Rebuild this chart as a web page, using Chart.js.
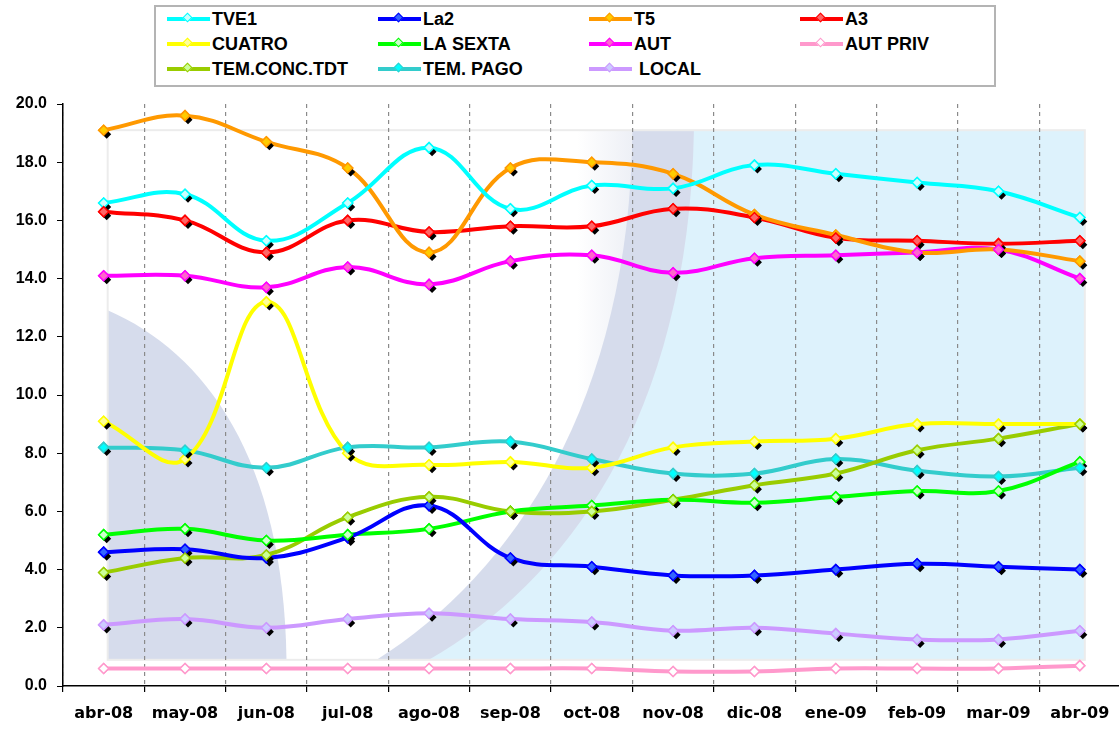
<!DOCTYPE html>
<html>
<head>
<meta charset="utf-8">
<script src="https://cdn.jsdelivr.net/npm/chart.js"></script>
<style>
body { margin: 0; overflow: hidden; background: #fff; }
#wrap { position: relative; width: 1127px; height: 730px; }
#legend { position: absolute; left: 154px; top: 5px; width: 842px; height: 82px; border: 2px solid #b4b4b4; box-sizing: border-box; background: #fff; }
.item { position: absolute; height: 24px; display: flex; align-items: center; font: bold 18px "Liberation Sans", Arial, sans-serif; color: #000; white-space: nowrap; }
.sample { position: relative; width: 43px; height: 4px; margin-right: 2px; }
.dia { position: absolute; left: 17px; top: -3px; width: 7px; height: 7px; transform: rotate(45deg); box-sizing: border-box; border: 1.5px solid; }
</style>
</head>
<body>
<div id="wrap">
  <canvas id="tv" width="1127" height="730"></canvas>
  <div id="legend"></div>
</div>
<script>
const months = ['abr-08', 'may-08', 'jun-08', 'jul-08', 'ago-08', 'sep-08', 'oct-08', 'nov-08', 'dic-08', 'ene-09', 'feb-09', 'mar-09', 'abr-09'];

const tve1    = [16.6, 16.9, 15.3, 16.6, 18.5, 16.4, 17.2, 17.1, 17.9, 17.6, 17.3, 17.0, 16.1];
const la2     = [4.6, 4.7, 4.4, 5.1, 6.2, 4.4, 4.1, 3.8, 3.8, 4.0, 4.2, 4.1, 4.0];
const t5      = [19.1, 19.6, 18.7, 17.8, 14.9, 17.8, 18.0, 17.6, 16.2, 15.5, 14.9, 15.0, 14.6];
const a3      = [16.3, 16.0, 14.9, 16.0, 15.6, 15.8, 15.8, 16.4, 16.1, 15.4, 15.3, 15.2, 15.3];
const cuatro  = [9.1, 7.8, 13.2, 8.0, 7.6, 7.7, 7.5, 8.2, 8.4, 8.5, 9.0, 9.0, 9.0];
const laSexta = [5.2, 5.4, 5.0, 5.2, 5.4, 6.0, 6.2, 6.4, 6.3, 6.5, 6.7, 6.7, 7.7];
const aut     = [14.1, 14.1, 13.7, 14.4, 13.8, 14.6, 14.8, 14.2, 14.7, 14.8, 14.9, 15.0, 14.0];
const autPriv = [0.6, 0.6, 0.6, 0.6, 0.6, 0.6, 0.6, 0.5, 0.5, 0.6, 0.6, 0.6, 0.7];
const temConc = [3.9, 4.4, 4.5, 5.8, 6.5, 6.0, 6.0, 6.4, 6.9, 7.3, 8.1, 8.5, 9.0];
const temPago = [8.2, 8.1, 7.5, 8.2, 8.2, 8.4, 7.8, 7.3, 7.3, 7.8, 7.4, 7.2, 7.5];
const local   = [2.1, 2.3, 2.0, 2.3, 2.5, 2.3, 2.2, 1.9, 2.0, 1.8, 1.6, 1.6, 1.9];

const yTicks = [0, 2, 4, 6, 8, 10, 12, 14, 16, 18, 20];

// name, values, line colour, marker fill, black shadow
const series = [
    ['TVE1', tve1, '#00ffff', '#ccffff', true],
    ['La2', la2, '#0000ff', '#3366ff', true],
    ['T5', t5, '#ff9900', '#ffcc00', true],
    ['A3', a3, '#ff0000', '#ff6666', true],
    ['CUATRO', cuatro, '#ffff00', '#ffff99', true],
    ['LA SEXTA', laSexta, '#00ff00', '#ccffcc', true],
    ['AUT', aut, '#ff00ff', '#ff66cc', true],
    ['AUT PRIV', autPriv, '#ff99cc', '#ffffff', false],
    ['TEM.CONC.TDT', temConc, '#99cc00', '#ccff99', true],
    ['TEM. PAGO', temPago, '#33cccc', '#00ffff', true],
    [' LOCAL', local, '#cc99ff', '#ccccff', true]
];

// legend box (html, 4 columns)
const legend = document.getElementById('legend');
series.forEach((s, i) => {
    const it = document.createElement('div');
    it.className = 'item';
    it.style.left = (11 + (i % 4) * 211) + 'px';
    it.style.top = (Math.floor(i / 4) * 25) + 'px';
    it.innerHTML = '<div class="sample" style="background:' + s[2] + '"><div class="dia" style="background:' + s[3] + ';border-color:' + s[2] + '"></div></div><span>' + s[0].replace(' ', '&nbsp;') + '</span>';
    legend.appendChild(it);
});

// background picture behind the plot
const backdrop = {
    id: 'backdrop',
    beforeDraw(chart) {
        const {ctx, scales: {x, y}} = chart;
        const L = x.getPixelForValue(0) + 4, R = x.getPixelForValue(12) + 5;
        const T = y.getPixelForValue(19.1), B = y.getPixelForValue(0.9);
        const W = R - L, H = B - T;
        const px = f => L + f * W, py = f => T + f * H;
        ctx.save();
        ctx.beginPath();
        ctx.rect(L, T, W, H);
        ctx.clip();
        ctx.fillStyle = '#ddf2fc';
        ctx.fillRect(L, T, W, H);
        // band (outer edge) then white inside
        ctx.beginPath();
        ctx.moveTo(px(0.6), T - 2);
        ctx.bezierCurveTo(px(0.595), py(0.55), px(0.465), py(0.86), px(0.325), B + 2);
        ctx.lineTo(L, B + 2);
        ctx.lineTo(L, T - 2);
        ctx.closePath();
        ctx.fillStyle = '#d6dcec';
        ctx.fill();
        ctx.beginPath();
        ctx.moveTo(px(0.537), T - 2);
        ctx.bezierCurveTo(px(0.535), py(0.51), px(0.415), py(0.84), px(0.272), B + 2);
        ctx.lineTo(L, B + 2);
        ctx.lineTo(L, T - 2);
        ctx.closePath();
        const g = ctx.createLinearGradient(px(0.535), 0, px(0.48), 0);
        g.addColorStop(0, '#eef0f6');
        g.addColorStop(1, '#ffffff');
        ctx.fillStyle = g;
        ctx.fill();
        // grey quarter shape at the left
        ctx.beginPath();
        ctx.moveTo(L, py(0.34));
        ctx.bezierCurveTo(px(0.1), py(0.42), px(0.18), py(0.62), px(0.183), B);
        ctx.lineTo(L, B);
        ctx.closePath();
        ctx.fillStyle = '#d6dcec';
        ctx.fill();
        ctx.restore();
        ctx.strokeStyle = '#ececec';
        ctx.lineWidth = 2;
        ctx.strokeRect(L, T, W, H);
    }
};

// black diamond shadow under each marker, marker drawn again on top
const shadows = {
    id: 'shadows',
    afterDatasetsDraw(chart) {
        const ctx = chart.ctx;
        chart.data.datasets.forEach((ds, i) => {
            const meta = chart.getDatasetMeta(i);
            if (meta.hidden) return;
            meta.data.forEach(pt => {
                if (ds.shadow) {
                    ctx.save();
                    ctx.fillStyle = '#000';
                    ctx.beginPath();
                    ctx.moveTo(pt.x + 3, pt.y + 4 - 4.5);
                    ctx.lineTo(pt.x + 3 + 4.5, pt.y + 4);
                    ctx.lineTo(pt.x + 3, pt.y + 4 + 4.5);
                    ctx.lineTo(pt.x + 3 - 4.5, pt.y + 4);
                    ctx.closePath();
                    ctx.fill();
                    ctx.restore();
                }
                pt.draw(ctx, chart.chartArea);
            });
        });
    }
};

new Chart(document.getElementById('tv'), {
    type: 'line',
    data: {
        labels: months,
        datasets: series.map(s => ({
            label: s[0],
            data: s[1],
            borderColor: s[2],
            backgroundColor: s[3],
            pointBackgroundColor: s[3],
            pointBorderColor: s[2],
            pointBorderWidth: 1.5,
            pointStyle: 'rectRot',
            pointRadius: 5,
            borderWidth: 4,
            tension: 0.4,
            fill: false,
            shadow: s[4]
        }))
    },
    options: {
        responsive: false,
        animation: false,
        layout: { padding: { top: 104, right: 1, left: 0, bottom: 0 } },
        plugins: {
            legend: { display: false },
            tooltip: { enabled: false }
        },
        scales: {
            x: {
                offset: true,
                afterFit: s => { s.height = 44; },
                grid: {
                    offset: true,
                    color: '#8a8a8a',
                    lineWidth: 1.2,
                    tickLength: 6,
                    tickColor: '#000'
                },
                border: { color: '#000', width: 1.5, dash: [4, 4] },
                ticks: {
                    color: '#000',
                    padding: 12,
                    maxRotation: 0,
                    autoSkip: false,
                    font: { family: 'DejaVu Sans', size: 16, weight: 'bold' }
                }
            },
            y: {
                min: 0,
                max: 20,
                afterFit: s => { s.width = 63; },
                afterBuildTicks: s => { s.ticks = yTicks.map(v => ({ value: v })); },
                grid: {
                    drawOnChartArea: false,
                    tickLength: 6,
                    tickColor: '#000'
                },
                border: { color: '#000', width: 1.5 },
                ticks: {
                    color: '#000',
                    padding: 10,
                    callback: v => v.toFixed(1),
                    font: { family: 'Liberation Sans', size: 16, weight: 'bold' }
                }
            }
        }
    },
    plugins: [backdrop, shadows]
});
</script>
</body>
</html>
